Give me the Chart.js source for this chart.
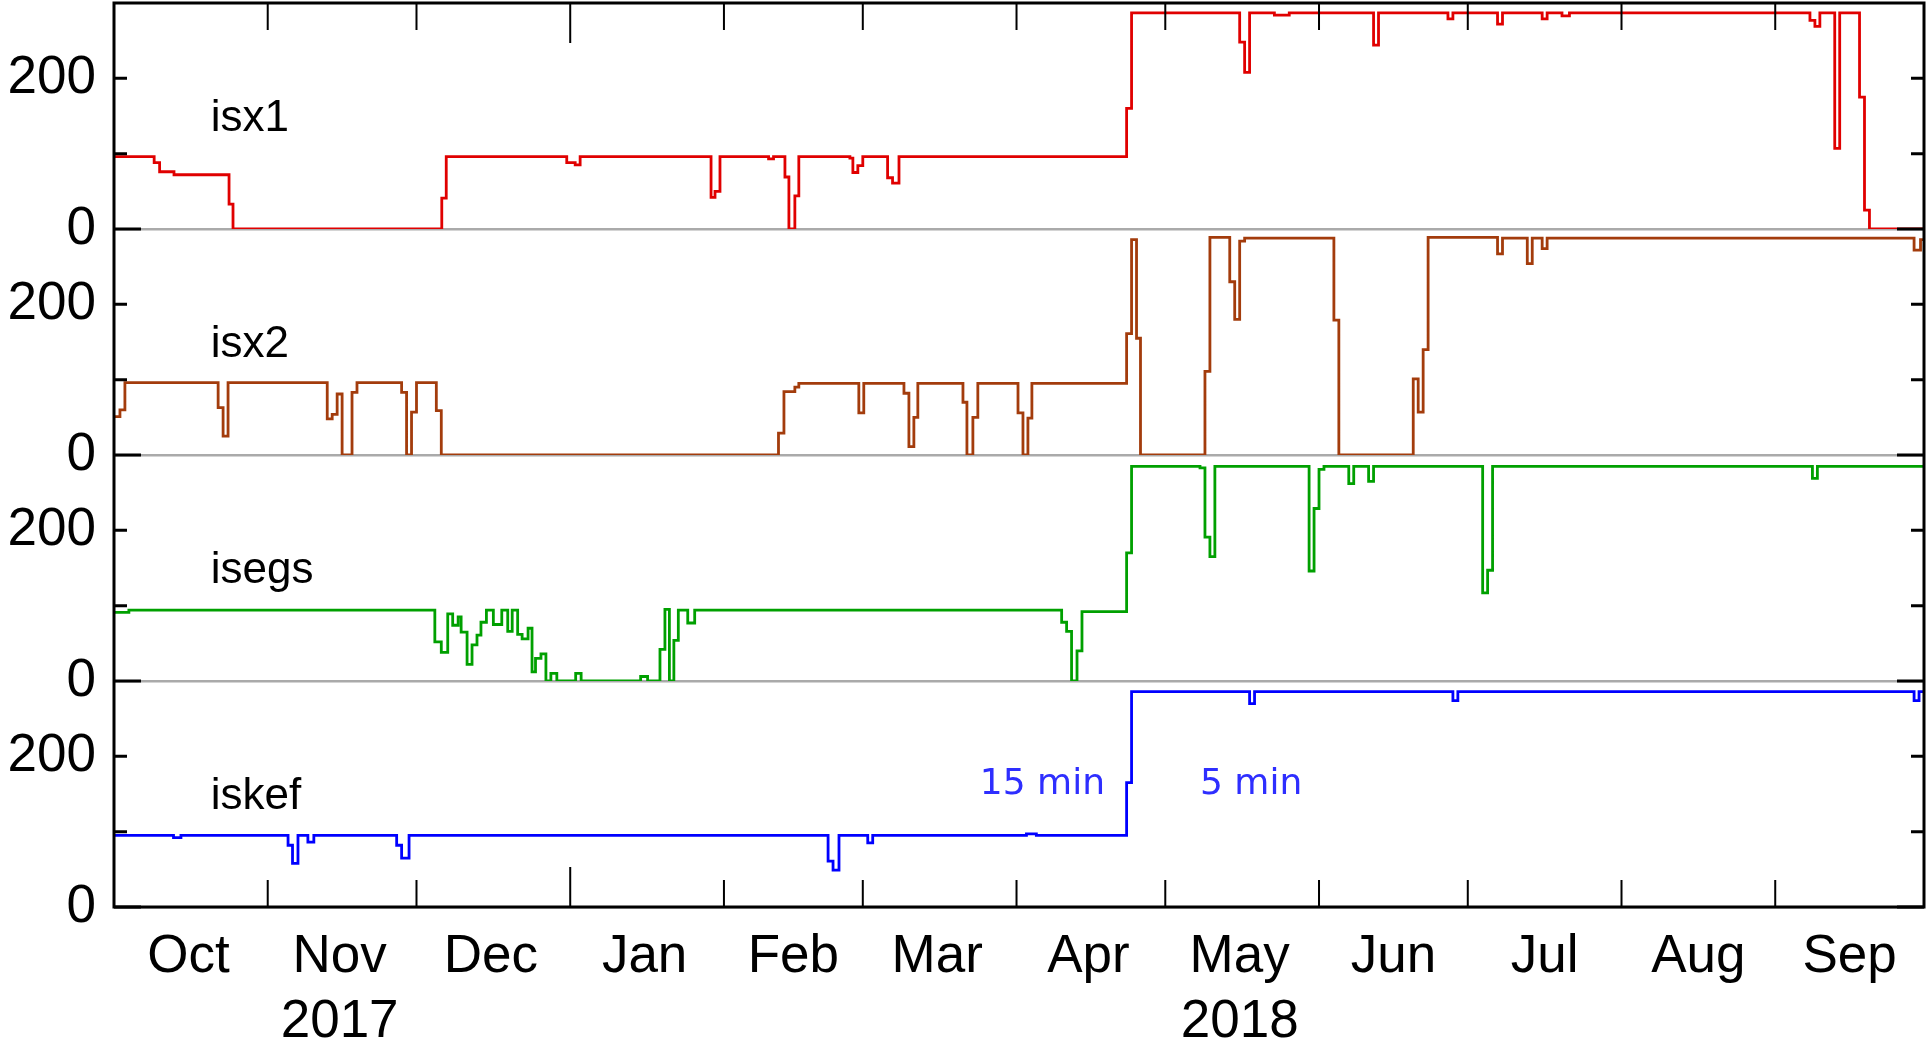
<!DOCTYPE html>
<html>
<head>
<meta charset="utf-8">
<script src="https://cdn.jsdelivr.net/npm/chart.js@4.4.1/dist/chart.umd.min.js"></script>
<style>
html, body { margin: 0; padding: 0; background: #ffffff; }
</style>
</head>
<body>
<canvas id="chart" width="1928" height="1044"></canvas>
<script>
// x = days since 2017-10-01, y = value
var isx1Days = [0, 8.1, 9.2, 12.1, 23.2, 24, 66.1, 67, 91.3, 93, 94, 120.4, 121.2, 122.2, 132, 133, 135.3, 136.1, 137.3, 138.1, 148.4, 149, 150, 151, 156, 157, 158.3, 204.2, 205.2, 227, 228, 229, 234, 237, 254, 255, 269, 270, 279, 280, 288, 289, 292, 293.5, 342, 343, 344, 347, 348, 352, 353, 354, 365];
var isx1Vals = [96, 88, 76, 72, 33, 0, 41, 96, 88, 85, 96, 42, 50, 96, 93, 96, 69, 0, 44, 96, 94, 75, 84, 96, 68, 61, 96, 160, 287, 248, 208, 287, 284, 287, 244, 287, 279, 287, 272, 287, 279, 287, 283, 287, 277, 269, 287, 107, 287, 175, 25, 0, 0];

var isx2Days = [0, 1.2, 2.2, 21, 22, 23, 43, 44, 45, 46, 48, 49, 58, 59, 60, 61, 65, 66, 134, 135.1, 137.3, 138.1, 150.2, 151.2, 159.3, 160.3, 161.3, 162.1, 171.2, 172, 173.2, 174.2, 182.3, 183.3, 184.3, 185.1, 204.2, 205.2, 206.2, 207, 220, 221, 225, 226, 227, 228, 246, 247, 262, 263, 264, 265, 279, 280, 285, 286, 288, 289, 363, 364.3, 365];
var isx2Vals = [51, 60, 96, 63, 25, 96, 48, 54, 81, 0, 83, 96, 83, 0, 57, 96, 59, 0, 29, 84, 90, 95, 56, 95, 82, 11, 50, 95, 70, 0, 50, 95, 56, 0, 49, 95, 161, 286, 155, 0, 111, 289, 230, 180, 284, 288, 179, 0, 101, 57, 140, 289, 267, 288, 254, 288, 274, 288, 272, 286, 286];

var isegsDays = [0, 3, 64.7, 66, 67.3, 68.3, 69.4, 70, 71.2, 72.2, 73.2, 74, 75.1, 76.5, 78.2, 79.4, 80.3, 81.4, 82.3, 83.5, 84.3, 85, 86.1, 87.1, 88.1, 89.3, 93.1, 94.2, 106.2, 107.6, 110.1, 111.1, 112, 112.9, 113.8, 115.7, 117.1, 191.1, 192.1, 193.1, 194.2, 195.2, 204.2, 205.2, 219, 220, 221, 222, 241, 242, 243, 244, 249, 250, 253, 254, 276, 277, 278, 342.5, 343.5, 365];
var isegsVals = [91, 94, 52, 38, 89, 74, 85, 65, 22, 48, 61, 78, 94, 75, 94, 66, 94, 62, 56, 70, 12, 30, 36, 0, 10, 0, 10, 0, 6, 0, 42, 95, 0, 54, 94, 77, 94, 78, 66, 0, 40, 92, 170, 285, 283, 191, 165, 285, 146, 229, 281, 285, 262, 285, 265, 285, 117, 147, 285, 269, 285, 285];

var iskefDays = [0, 12, 13.5, 35.1, 36, 37.1, 39.1, 40.3, 57, 58, 59.5, 144, 145, 146.2, 152, 153, 184, 186, 204.2, 205.2, 229, 230, 270, 271, 363, 364, 365];
var iskefVals = [95, 92, 95, 82, 58, 95, 86, 95, 82, 65, 95, 61, 49, 95, 85, 95, 97, 95, 165, 286, 270, 286, 274, 286, 274, 286, 286];

// axis ticks and labels
var monthStarts = [31, 61, 92, 123, 151, 182, 212, 243, 273, 304, 335];
var yearStart = 92;
var monthMids = [15, 45.5, 76, 107, 137, 166, 196.5, 227, 258, 288.5, 319.5, 350];
var monthLabels = ['Oct', ['Nov', '2017'], 'Dec', 'Jan', 'Feb', 'Mar', 'Apr', ['May', '2018'], 'Jun', 'Jul', 'Aug', 'Sep'];
var yTicks = [0, 100, 200, 300];
var yTickLabels = ['0', '', '200', ''];

var panelNames = ['isx1', 'isx2', 'isegs', 'iskef'];
var panelColors = ['#e00000', '#a33c0c', '#00a000', '#0000ff'];
var notes = [{ text: '15 min', day: 174.6, value: 150 }, { text: '5 min', day: 219, value: 150 }];

var toPoints = (days, vals) => days.map((d, i) => ({ x: d, y: vals[i] }));

function panelAxis() {
	return {
		type: 'linear',
		position: 'left',
		stack: 'panels',
		stackWeight: 1,
		min: 0,
		max: 300,
		offset: false,
		afterBuildTicks: s => { s.ticks = yTicks.map(v => ({ value: v })); },
		afterFit: s => {
			s.width = 114;
			s.paddingTop = 0;
			s.paddingBottom = 0;
		},
		ticks: {
			autoSkip: false,
			padding: 18,
			color: '#000000',
			font: { family: 'Liberation Sans', size: 53 },
			callback: (v, i) => yTickLabels[i]
		},
		grid: {
			drawTicks: false,
			lineWidth: 2.5,
			color: c => (c.tick && c.tick.value === 0) ? '#aaaaaa' : 'rgba(0,0,0,0)'
		},
		border: { display: false }
	};
}

// frame, inward tick marks and text labels
var framePlugin = {
	id: 'frame',
	afterDatasetsDraw(chart) {
		var ctx = chart.ctx;
		var a = chart.chartArea;
		var xs = chart.scales.x;
		ctx.save();
		ctx.strokeStyle = '#000000';
		ctx.lineWidth = 3;
		ctx.strokeRect(a.left, a.top, a.right - a.left, a.bottom - a.top);

		['yX1', 'yX2', 'yEgs', 'yKef'].forEach(id => {
			var s = chart.scales[id];
			[0, 100, 200].forEach(v => {
				var y = s.getPixelForValue(v);
				var len = v === 0 ? 27 : 13;
				ctx.beginPath();
				ctx.moveTo(a.left, y); ctx.lineTo(a.left + len, y);
				ctx.moveTo(a.right, y); ctx.lineTo(a.right - len, y);
				ctx.stroke();
			});
		});

		ctx.lineWidth = 2;
		monthStarts.forEach(d => {
			var x = xs.getPixelForValue(d);
			var len = d === yearStart ? 40 : 27;
			ctx.beginPath();
			ctx.moveTo(x, a.top); ctx.lineTo(x, a.top + len);
			ctx.moveTo(x, a.bottom); ctx.lineTo(x, a.bottom - len);
			ctx.stroke();
		});

		ctx.fillStyle = '#000000';
		ctx.font = '44px "Liberation Sans"';
		ctx.textAlign = 'left';
		ctx.textBaseline = 'alphabetic';
		['yX1', 'yX2', 'yEgs', 'yKef'].forEach((id, i) => {
			ctx.fillText(panelNames[i], xs.getPixelForValue(19.5), chart.scales[id].getPixelForValue(130));
		});

		ctx.fillStyle = '#2e2eff';
		ctx.font = '36px "DejaVu Sans"';
		notes.forEach(n => {
			ctx.fillText(n.text, xs.getPixelForValue(n.day), chart.scales.yKef.getPixelForValue(n.value));
		});
		ctx.restore();
	}
};

function series(i, days, vals, axis) {
	return {
		label: panelNames[i],
		data: toPoints(days, vals),
		yAxisID: axis,
		borderColor: panelColors[i],
		borderWidth: 2.8,
		pointRadius: 0,
		stepped: true,
		fill: false
	};
}

var myChart = new Chart(document.getElementById('chart'), {
	type: 'line',
	data: {
		datasets: [
			series(0, isx1Days, isx1Vals, 'yX1'),
			series(1, isx2Days, isx2Vals, 'yX2'),
			series(2, isegsDays, isegsVals, 'yEgs'),
			series(3, iskefDays, iskefVals, 'yKef')
		]
	},
	options: {
		responsive: false,
		animation: false,
		events: [],
		layout: { padding: { top: 3, right: 4, left: 0, bottom: 0 } },
		plugins: {
			legend: { display: false },
			tooltip: { enabled: false }
		},
		scales: {
			x: {
				type: 'linear',
				position: 'bottom',
				min: 0,
				max: 365,
				afterBuildTicks: s => { s.ticks = monthMids.map(v => ({ value: v })); },
				afterFit: s => {
					s.height = 137;
					s.paddingLeft = 0;
					s.paddingRight = 0;
				},
				ticks: {
					autoSkip: false,
					maxRotation: 0,
					padding: 18,
					color: '#000000',
					font: { family: 'Liberation Sans', size: 53, lineHeight: 1.22 },
					callback: (v, i) => monthLabels[i]
				},
				grid: { display: false, drawTicks: false },
				border: { display: false }
			},
			// first defined sits at the bottom of the stack
			yKef: panelAxis(),
			yEgs: panelAxis(),
			yX2: panelAxis(),
			yX1: panelAxis()
		}
	},
	plugins: [framePlugin]
});
</script>
</body>
</html>
